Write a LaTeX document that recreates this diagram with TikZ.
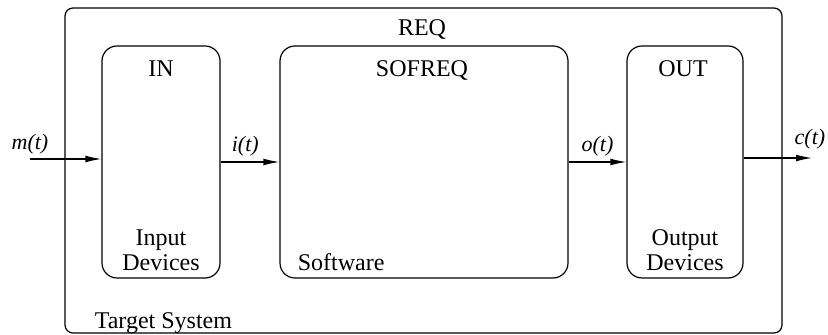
\documentclass[tikz,border=0pt]{standalone}
\usepackage{fontspec}
\setmainfont{Liberation Serif}
\usetikzlibrary{arrows.meta}
\usetikzlibrary{calc}
\tikzset{
  block/.style={draw, black, line width=0.6pt, rounded corners=7.5pt, inner sep=0pt,
    minimum height=116pt},
  sysbox/.style={draw, black, line width=0.6pt, rounded corners=4pt, inner sep=0pt},
  signal/.style={black, line width=0.6pt, -{Latex[length=8pt,width=3.4pt]}},
  siglabel/.style={font=\fontsize{11}{12}\selectfont\itshape, inner sep=0pt},
}

\begin{document}
\begin{tikzpicture}[x=0.5pt, y=-0.5pt, font=\fontsize{12}{13}\selectfont]
% just to have nice boundaries to the picture
\useasboundingbox (0,0) rectangle (828,335);

%%%%%%%%%%%%%%%%%%%%%%%%%%%%%%%%%%%%%%%%%%%%%%%%%%%%%%%%%%%%%% Boxes
\node[sysbox, minimum width=358.5pt, minimum height=162.5pt] (req) at (423.5,170.5) {};
\node[block, minimum width=59pt]  (in)     at (161,162) {};
\node[block, minimum width=144pt] (sofreq) at (424,162) {};
\node[block, minimum width=58pt]  (out)    at (685,162) {};

%%%%%%%%%%%%%%%%%%%%%%%%%%%%%%%%%%%%%%%%%%%%%%%%%%%%%%%%%%%%%% Texts
\node[anchor=base] (reqname) at ($(req.north)+(-1.5,28)$) {REQ};
\node[anchor=base west, inner sep=0pt] (reqsys) at ($(req.south west)+(30,-5)$) {Target System};

\node[anchor=base] (inname) at ($(in.north)+(0,31)$) {IN};
\node[anchor=base] (ininput) at ($(in.south)+(0,-33)$) {Input};
\node[anchor=base] (indev) at ($(in.south)+(0,-8)$) {Devices};

\node[anchor=base] (sofname) at ($(sofreq.north)+(-2,31)$) {SOFREQ};
\node[anchor=base west, inner sep=0pt] (sofsw) at ($(sofreq.south west)+(18,-8)$) {Software};

\node[anchor=base] (outname) at ($(out.north)+(-2,31)$) {OUT};
\node[anchor=base] (outoutput) at ($(out.south)+(0,-33)$) {Output};
\node[anchor=base] (outdev) at ($(out.south)+(0,-8)$) {Devices};

%%%%%%%%%%%%%%%%%%%%%%%%%%%%%%%%%%%%%%%%%%%%%%%%%%%%%%%%%%%%%% Signals
\coordinate (min) at (30,159);
\coordinate (cout) at (812,158);

\draw[signal] (min) -- (min -| in.west)
  node[siglabel, pos=0, above=2pt] (mlbl) {m(t)};
\draw[signal] (in.east) -- (sofreq.west)
  node[siglabel, pos=0.42, above=2.5pt] (ilbl) {i(t)};
\draw[signal] (sofreq.east) -- (out.west)
  node[siglabel, pos=0.5, above=2.5pt] (olbl) {o(t)};
\draw[signal] (cout -| out.east) -- (cout)
  node[siglabel, pos=0.97, above=4pt] (clbl) {c(t)};

\end{tikzpicture}
\end{document}
